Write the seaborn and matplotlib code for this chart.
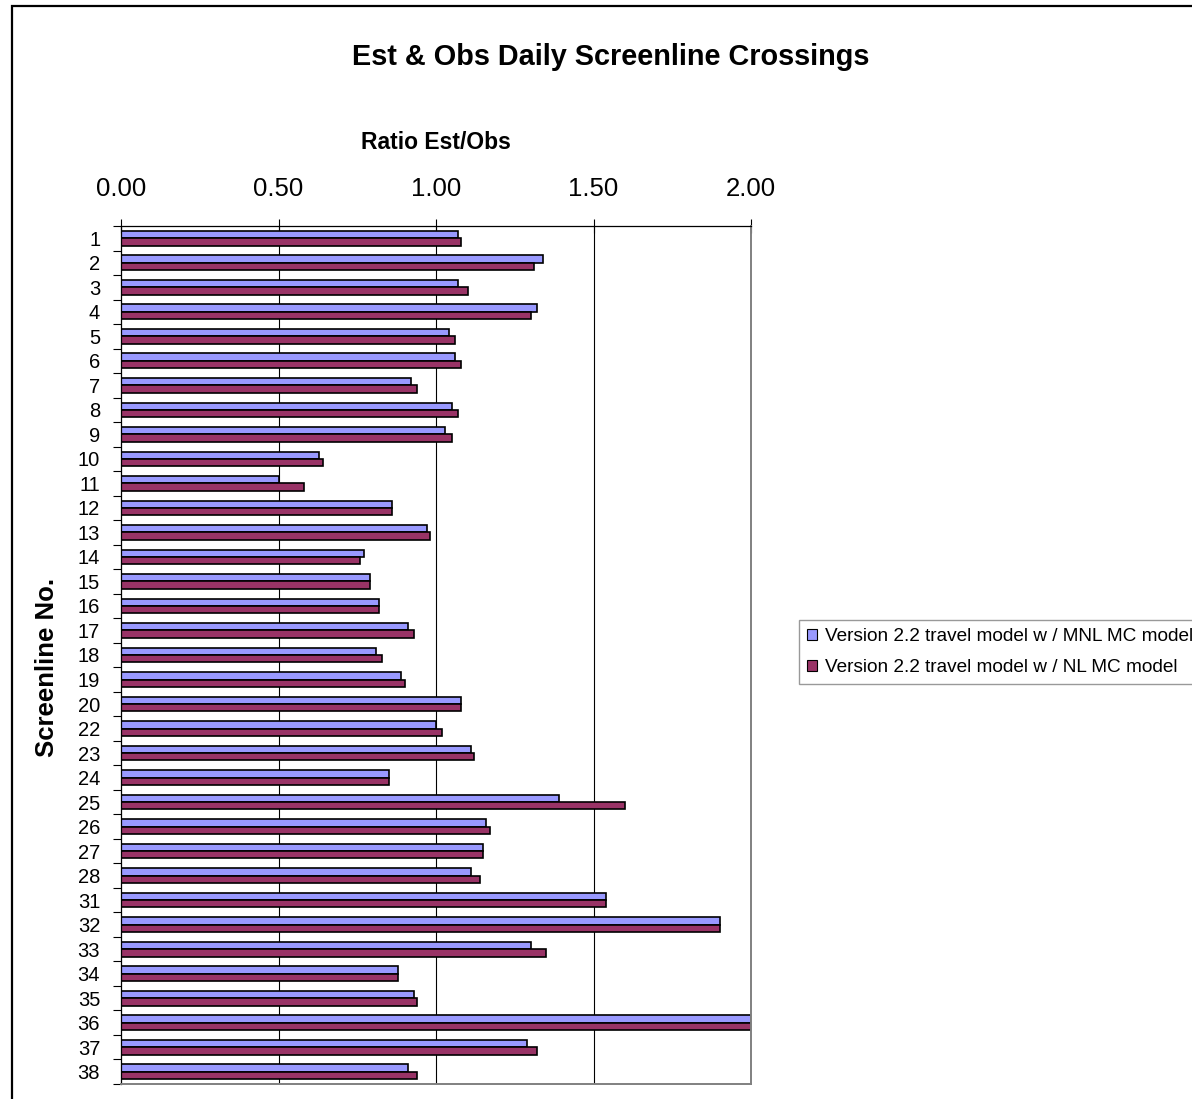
import numpy as np
import pandas as pd
import matplotlib
matplotlib.use("Agg")
import matplotlib.pyplot as plt
from matplotlib.patches import Patch, Rectangle
from matplotlib.ticker import FixedLocator
import seaborn as sns

# Screenline numbers (21, 29 and 30 are not reported)
screenlines = ["1", "2", "3", "4", "5", "6", "7", "8", "9", "10", "11", "12",
               "13", "14", "15", "16", "17", "18", "19", "20", "22", "23", "24",
               "25", "26", "27", "28", "31", "32", "33", "34", "35", "36", "37",
               "38"]

# Ratio of estimated to observed daily crossings, MNL mode choice model
mnl_ratio = [1.07, 1.34, 1.07, 1.32, 1.04, 1.06, 0.92, 1.05, 1.03, 0.63,
             0.50, 0.86, 0.97, 0.77, 0.79, 0.82, 0.91, 0.81, 0.89, 1.08,
             1.00, 1.11, 0.85, 1.39, 1.16, 1.15, 1.11, 1.54, 1.90, 1.30,
             0.88, 0.93, 2.00, 1.29, 0.91]

# Ratio of estimated to observed daily crossings, NL mode choice model
nl_ratio = [1.08, 1.31, 1.10, 1.30, 1.06, 1.08, 0.94, 1.07, 1.05, 0.64,
            0.58, 0.86, 0.98, 0.76, 0.79, 0.82, 0.93, 0.83, 0.90, 1.08,
            1.02, 1.12, 0.85, 1.60, 1.17, 1.15, 1.14, 1.54, 1.90, 1.35,
            0.88, 0.94, 2.00, 1.32, 0.94]

series_names = ["Version 2.2 travel model w / MNL MC model",
                "Version 2.2 travel model w / NL MC model"]
series_colors = ["#9999FF", "#993366"]

x_ticks = [0.0, 0.5, 1.0, 1.5, 2.0]

df = pd.DataFrame({
    "Screenline": screenlines * 2,
    "Ratio": mnl_ratio + nl_ratio,
    "Model": [series_names[0]] * len(screenlines) + [series_names[1]] * len(screenlines),
})

sns.set_style("white")
plt.rcParams["font.family"] = ["Liberation Sans", "DejaVu Sans"]
for key in ["text.color", "axes.labelcolor", "xtick.color", "ytick.color"]:
    plt.rcParams[key] = "black"

W, H = 1192, 1099
fig = plt.figure(figsize=(W / 100, H / 100), dpi=100)
fig.patch.set_facecolor("white")

ax_left, ax_right, ax_top, ax_bottom = 121, 751, 226, 1084
ax = fig.add_axes([ax_left / W, 1 - ax_bottom / H,
                   (ax_right - ax_left) / W, (ax_bottom - ax_top) / H])

sns.barplot(data=df, x="Ratio", y="Screenline", hue="Model",
            order=screenlines, hue_order=series_names,
            palette=series_colors, orient="h", width=0.6, gap=0,
            edgecolor="black", linewidth=1.2, saturation=1,
            legend=False, ax=ax)

ax.set_xlim(0, 2.0)
ax.set_ylim(len(screenlines) - 0.5, -0.5)

# value axis along the top
ax.xaxis.tick_top()
ax.set_xticks(x_ticks)
ax.set_xticklabels([f"{v:.2f}" for v in x_ticks])
ax.tick_params(axis="x", which="major", direction="inout", length=9.5,
               width=0.8, color="black", labelsize=18.5, pad=13)
ax.xaxis.set_label_position("top")
ax.set_xlabel("Ratio Est/Obs", fontsize=16.5, fontweight="bold")
ax.xaxis.set_label_coords(0.5, (ax_bottom - 142) / (ax_bottom - ax_top))
ax.xaxis.label.set_va("center")

# category axis: labels centred, tick marks between categories
ax.tick_params(axis="y", which="major", length=0, labelsize=14.5, pad=15)
ax.yaxis.set_minor_locator(FixedLocator(np.arange(-0.5, len(screenlines), 1.0)))
ax.tick_params(axis="y", which="minor", left=True, direction="out",
               length=6, width=0.8, color="black")
ax.set_ylabel("Screenline No.", fontsize=18.5, fontweight="bold")
ax.yaxis.set_label_coords((47 - ax_left) / (ax_right - ax_left),
                          (ax_bottom - 667) / (ax_bottom - ax_top))
ax.yaxis.label.set_va("center")

# vertical gridlines
for v in x_ticks[1:]:
    ax.axvline(v, color="black", linewidth=0.8, zorder=0.5)
ax.grid(False)

for side in ["top", "left"]:
    ax.spines[side].set_color("black")
    ax.spines[side].set_linewidth(0.9)
for side in ["right", "bottom"]:
    ax.spines[side].set_color("#808080")
    ax.spines[side].set_linewidth(1.4)

fig.suptitle("Est & Obs Daily Screenline Crossings", x=611 / W, y=1 - 57 / H,
             va="center", ha="center", fontsize=20.8, fontweight="bold")

handles = [Patch(facecolor=c, edgecolor="black", linewidth=0.8, label=n)
           for c, n in zip(series_colors, series_names)]
leg = ax.legend(handles=handles, loc="upper left",
                bbox_to_anchor=(799 / W, 1 - 620 / H),
                bbox_transform=fig.transFigure, borderaxespad=0,
                fontsize=13.7, frameon=True, fancybox=False, shadow=False,
                edgecolor="#808080", handlelength=0.55, handleheight=0.55,
                handletextpad=0.42, borderpad=0.42, labelspacing=0.75)
leg.get_frame().set_linewidth(1.0)

# chart border
fig.add_artist(Rectangle((12 / W, -0.05), 1.2, 1 - 6 / H + 0.05,
                         transform=fig.transFigure, fill=False,
                         edgecolor="black", linewidth=1.6, clip_on=False))

fig.savefig("out.png", dpi=100)
